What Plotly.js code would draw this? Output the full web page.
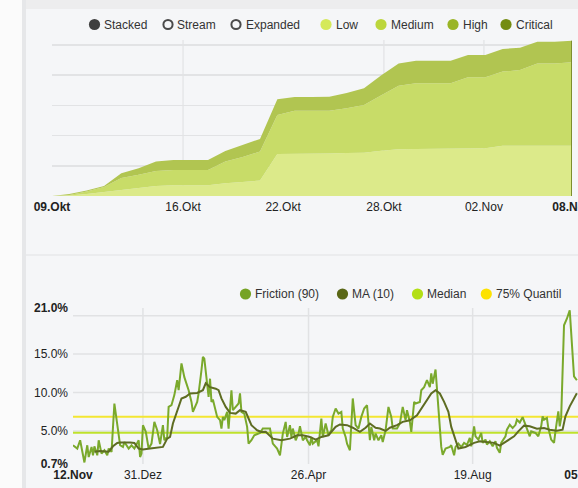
<!DOCTYPE html>
<html>
<head>
<meta charset="utf-8">
<script src="https://cdn.plot.ly/plotly-3.0.1.min.js"></script>
<style>
  html, body { margin: 0; padding: 0; overflow: hidden; background: #f5f6f8; }
  #chart { width: 610px; height: 488px; }
</style>
</head>
<body>
<div id="chart"></div>
<script>
// ---------- Top chart data (stacked risk levels, one point per observation) ----------
const topTickLabels = ['<b>09.Okt</b>', '16.Okt', '22.Okt', '28.Okt', '02.Nov', '<b>08.Nov</b>'];
const topTickPos = [0, 7.56, 13.33, 19.15, 24.92, 30];
const topGridPos = [7.56, 19.15, 24.92];
const lowVals = [0, 0.02, 0.07, 0.14, 0.2, 0.26, 0.33, 0.36, 0.36, 0.36, 0.42, 0.46, 0.51, 1.39, 1.39, 1.41, 1.41, 1.42, 1.43, 1.5, 1.55, 1.56, 1.56, 1.57, 1.58, 1.58, 1.66, 1.66, 1.66, 1.66, 1.66];
const mediumVals = [0, 0.01, 0.08, 0.16, 0.4, 0.44, 0.5, 0.5, 0.5, 0.5, 0.72, 0.83, 0.96, 1.29, 1.43, 1.41, 1.41, 1.49, 1.58, 1.84, 2.1, 2.17, 2.17, 2.16, 2.35, 2.35, 2.46, 2.51, 2.73, 2.73, 2.77];
const highVals = [0, 0.04, 0.03, 0.03, 0.15, 0.22, 0.31, 0.33, 0.33, 0.33, 0.35, 0.4, 0.42, 0.52, 0.46, 0.46, 0.47, 0.5, 0.56, 0.66, 0.74, 0.75, 0.75, 0.75, 0.74, 0.74, 0.75, 0.74, 0.72, 0.72, 0.71];
const criticalVals = [0, 0, 0, 0, 0, 0, 0, 0, 0, 0, 0, 0, 0, 0, 0, 0, 0, 0, 0, 0, 0, 0, 0, 0, 0, 0, 0, 0, 0, 0, 0];
const topIndex = lowVals.map((_, i) => i);

// ---------- Bottom chart data (days since 12.Nov) ----------
const bottomTickLabels = ['<b>12.Nov</b>', '31.Dez', '26.Apr', '19.Aug', '<b>05.Nov</b>'];
const bottomTickDays = [0, 49, 165, 280, 358];
const bottomGridDays = [49, 165, 280];
const yTickVals = [0.7, 5, 10, 15, 21];
const yTickText = ['<b>0.7%</b>', '5.0%', '10.0%', '15.0%', '<b>21.0%</b>'];
const yGridVals = [5, 10, 15, 20];

const frictionDays = [0,3,5,8,10,11,13,14,15,17,18,20,22,24,25,27,29,31,33,35,36,39,41,43,46,47,48,49,51,53,55,57,59,61,63,64,66,67,69,71,73,74,76,78,81,83,84,87,88,90,91,92,94,95,96,97,98,100,101,103,104,105,106,108,109,111,112,114,116,117,118,120,122,123,125,127,131,133,138,140,143,145,147,149,150,152,153,154,156,158,159,161,163,164,166,167,168,171,172,174,175,177,179,181,182,184,186,188,189,191,192,194,195,196,198,200,202,204,206,208,209,211,212,214,216,217,219,221,223,224,227,229,231,233,234,236,237,239,240,243,244,246,248,250,251,252,254,255,257,258,259,261,264,265,267,268,270,272,274,276,278,279,281,282,284,286,287,289,290,292,294,296,297,299,300,303,304,306,308,310,311,313,315,317,318,320,321,324,326,328,329,330,332,333,335,337,338,340,341,342,344,346,348,351,353];
const frictionVals = [3.14,2.71,3.79,0.9,3.14,1.61,2.92,1.83,3.0,1.83,3.79,2.05,2.49,1.83,2.71,2.27,8.57,5.97,3.14,2.92,3.57,2.71,3.14,2.71,3.79,1.61,2.05,5.75,4.88,2.71,3.36,6.18,5.1,3.3,5.75,3.79,4.22,8.13,8.35,9.66,11.6,10.3,13.8,12.0,10.3,8.78,7.48,8.78,9.88,12.9,14.65,14.4,10.7,9.44,11.8,8.78,9.1,7.7,6.83,6.4,5.31,6.83,6.4,7.48,5.31,10.3,7.7,8.13,8.57,9.88,7.48,7.26,5.53,3.35,3.79,4.44,4.74,5.31,5.31,3.35,2.71,1.83,4.66,6.18,4.22,5.75,4.22,5.31,3.79,4.66,5.62,3.79,4.22,3.79,3.14,4.22,3.35,3.79,3.0,6.62,4.22,5.97,4.44,5.09,6.83,7.92,7.26,7.48,5.31,4.22,3.35,2.49,5.97,9.23,5.75,5.31,6.83,7.92,8.35,3.79,5.53,3.79,4.66,3.79,4.44,3.57,5.09,8.13,6.83,5.31,5.31,5.97,8.13,6.4,7.7,6.18,4.88,8.78,8.57,8.78,10.3,10.7,11.6,10.7,12.5,11.15,13.0,10.3,5.97,2.92,1.9,2.71,2.92,3.14,1.83,2.92,3.35,2.9,3.45,3.2,4.09,3.0,5.6,4.3,3.87,4.74,3.45,3.87,3.23,3.65,3.0,3.65,2.8,2.15,3.45,4.3,5.17,5.8,5.38,5.8,6.46,6.1,6.8,5.8,5.17,4.3,4.95,4.74,4.3,5.6,6.9,6.46,6.7,5.38,3.87,3.45,4.95,7.54,5.6,6.7,18.75,19.6,20.7,12.1,11.6];

const maDays = [15,19,25,28,31,33,40,43,46,49,54,60,63,66,68,70,74,76,79,82,87,89,91,93,96,100,102,104,107,110,114,117,121,123,125,129,132,135,140,146,152,157,161,166,170,174,179,184,187,192,196,201,205,208,212,215,219,222,227,231,236,241,244,248,251,254,257,260,263,265,268,270,275,281,285,290,295,299,304,309,312,316,320,325,330,334,339,343,345,348,353];
const maVals = [2.3,2.4,2.3,3.0,3.44,3.5,3.5,3.44,2.71,2.6,2.71,2.8,2.92,4.0,4.22,5.97,8.13,9.23,9.45,9.88,9.95,10.1,10.3,11.2,10.7,10.5,10.3,9.23,8.13,7.35,7.26,7.7,7.48,6.62,5.75,5.09,4.88,4.9,4.0,3.79,4.0,4.44,4.44,4.22,3.88,4.22,4.44,5.53,5.84,5.75,5.42,4.88,5.42,5.97,5.42,5.31,5.0,5.42,5.75,6.18,6.4,7.05,7.92,9.0,9.88,10.3,9.88,8.78,7.48,5.53,3.79,2.71,2.92,3.45,3.65,3.55,3.45,3.1,3.65,4.3,4.95,5.69,5.6,5.3,5.38,5.17,5.04,5.17,6.9,8.2,9.9];

const statDays = [0, 358];
const medianLine = [4.77, 4.77];
const quantil75Line = [6.85, 6.85];

// ---------- layout helpers (pixel -> paper) ----------
const W = 610, H = 488;
const px = x => x / W;
const py = y => 1 - y / H;
const FONT = 'Liberation Sans, Arial, sans-serif';

const traces = [
  {x: topIndex, y: lowVals, type: 'scatter', mode: 'lines', stackgroup: 'risk', name: 'Low',
   line: {width: 0}, fillcolor: '#dcea8a', xaxis: 'x', yaxis: 'y', hoverinfo: 'skip'},
  {x: topIndex, y: mediumVals, type: 'scatter', mode: 'lines', stackgroup: 'risk', name: 'Medium',
   line: {width: 0}, fillcolor: '#c8dc68', xaxis: 'x', yaxis: 'y', hoverinfo: 'skip'},
  {x: topIndex, y: highVals, type: 'scatter', mode: 'lines', stackgroup: 'risk', name: 'High',
   line: {width: 0}, fillcolor: '#b1c551', xaxis: 'x', yaxis: 'y', hoverinfo: 'skip'},
  {x: topIndex, y: criticalVals, type: 'scatter', mode: 'lines', stackgroup: 'risk', name: 'Critical',
   line: {width: 0}, fillcolor: '#8fa52c', xaxis: 'x', yaxis: 'y', hoverinfo: 'skip'},
  {x: statDays, y: medianLine, type: 'scatter', mode: 'lines', name: 'Median',
   line: {color: '#bfe22c', width: 2}, xaxis: 'x2', yaxis: 'y2', hoverinfo: 'skip'},
  {x: statDays, y: quantil75Line, type: 'scatter', mode: 'lines', name: '75% Quantil',
   line: {color: '#f3e632', width: 2}, xaxis: 'x2', yaxis: 'y2', hoverinfo: 'skip'},
  {x: frictionDays, y: frictionVals, type: 'scatter', mode: 'lines', name: 'Friction (90)',
   line: {color: '#7aa92c', width: 2}, xaxis: 'x2', yaxis: 'y2', hoverinfo: 'skip'},
  {x: maDays, y: maVals, type: 'scatter', mode: 'lines', name: 'MA (10)',
   line: {color: '#5e6c22', width: 2}, xaxis: 'x2', yaxis: 'y2', hoverinfo: 'skip'}
];

const shapes = [
  // page decoration
  {type: 'rect', xref: 'paper', yref: 'paper', x0: 0, x1: px(22), y0: 0, y1: 1, fillcolor: '#fbfbfb', line: {width: 0}, layer: 'below'},
  {type: 'rect', xref: 'paper', yref: 'paper', x0: px(22), x1: px(26), y0: 0, y1: 1, fillcolor: '#e6e7e9', line: {width: 0}, layer: 'below'},
  {type: 'rect', xref: 'paper', yref: 'paper', x0: px(26), x1: 1, y0: py(9), y1: 1, fillcolor: '#ededee', line: {width: 0}, layer: 'below'},
  {type: 'line', xref: 'paper', yref: 'paper', x0: px(26), x1: 1, y0: py(255), y1: py(255), line: {color: '#ebecee', width: 2}, layer: 'below'}
];
topGridPos.forEach(v => shapes.push({type: 'line', xref: 'x', yref: 'y domain', x0: v, x1: v, y0: 0, y1: 1,
  line: {color: '#dedfe1', width: 1}, layer: 'below'}));
bottomGridDays.forEach(v => shapes.push({type: 'line', xref: 'x2', yref: 'y2 domain', x0: v, x1: v, y0: 0, y1: 1,
  line: {color: '#e1e2e4', width: 1.5}, layer: 'below'}));
yGridVals.forEach(v => shapes.push({type: 'line', xref: 'x2 domain', yref: 'y2', x0: 0, x1: 1, y0: v, y1: v,
  line: {color: '#e1e2e4', width: 1.5}, layer: 'below'}));
// right edge of the stacked area
const lastI = topIndex.length - 1;
shapes.push({type: 'line', xref: 'x', yref: 'y', x0: topIndex[lastI], x1: topIndex[lastI], y0: 0,
  y1: lowVals[lastI] + mediumVals[lastI] + highVals[lastI] + criticalVals[lastI],
  line: {color: '#7d8f2e', width: 2}, layer: 'above'});

// legends (markers as shapes, labels as annotations)
const topLegend = [
  {label: 'Stacked', cx: 94.5, color: '#3f3f3f', hollow: false},
  {label: 'Stream', cx: 168, color: '#4a4a4a', hollow: true},
  {label: 'Expanded', cx: 236, color: '#4a4a4a', hollow: true},
  {label: 'Low', cx: 326, color: '#d5e95a', hollow: false},
  {label: 'Medium', cx: 381, color: '#bcd63c', hollow: false},
  {label: 'High', cx: 453, color: '#9ab526', hollow: false},
  {label: 'Critical', cx: 506, color: '#748c10', hollow: false}
];
const bottomLegend = [
  {label: 'Friction (90)', cx: 245.5, color: '#76a324', hollow: false},
  {label: 'MA (10)', cx: 342.5, color: '#5a6716', hollow: false},
  {label: 'Median', cx: 417.5, color: '#b3df14', hollow: false},
  {label: '75% Quantil', cx: 486.3, color: '#fde200', hollow: false}
];
const annotations = [];
function addLegend(items, cy) {
  items.forEach(it => {
    const r = it.hollow ? 4.6 : 5.6;
    shapes.push({type: 'circle', xref: 'paper', yref: 'paper',
      x0: px(it.cx - r), x1: px(it.cx + r), y0: py(cy + r), y1: py(cy - r),
      fillcolor: it.hollow ? 'rgba(0,0,0,0)' : it.color,
      line: {color: it.color, width: it.hollow ? 2 : 0}, layer: 'above'});
    annotations.push({xref: 'paper', yref: 'paper', x: px(it.cx + 7.5), y: py(cy),
      xanchor: 'left', yanchor: 'middle', text: it.label, showarrow: false,
      font: {family: FONT, size: 12, color: '#333333'}});
  });
}
addLegend(topLegend, 24.5);
addLegend(bottomLegend, 294);

const layout = {
  width: W, height: H,
  margin: {l: 0, r: 0, t: 0, b: 0},
  paper_bgcolor: '#f5f6f8',
  plot_bgcolor: 'rgba(0,0,0,0)',
  showlegend: false,
  font: {family: FONT, size: 12, color: '#333333'},
  xaxis: {domain: [px(52), px(572)], range: [0, 30], anchor: 'y',
    tickmode: 'array', tickvals: topTickPos, ticktext: topTickLabels,
    showgrid: false, zeroline: false, showline: false, ticks: '', ticklabelstandoff: 2,
    tickfont: {family: FONT, size: 12, color: '#222222'}, fixedrange: true},
  yaxis: {domain: [py(196), py(40)], range: [0, 5.166], anchor: 'x',
    tickmode: 'linear', tick0: 0, dtick: 1, showticklabels: false,
    showgrid: true, gridcolor: '#e2e3e5', gridwidth: 1.5, zeroline: false, showline: false, fixedrange: true},
  xaxis2: {domain: [px(73), px(584)], range: [0, 358], anchor: 'y2',
    tickmode: 'array', tickvals: bottomTickDays, ticktext: bottomTickLabels,
    showgrid: false, zeroline: false, showline: false, ticks: '', ticklabelstandoff: 2,
    tickfont: {family: FONT, size: 12, color: '#222222'}, fixedrange: true},
  yaxis2: {domain: [py(464), py(308)], range: [0.7, 21], anchor: 'x2',
    tickmode: 'array', tickvals: yTickVals, ticktext: yTickText,
    showgrid: false, zeroline: false, showline: false, ticks: '', ticklabelstandoff: 4,
    tickfont: {family: FONT, size: 12, color: '#222222'}, fixedrange: true},
  shapes: shapes,
  annotations: annotations
};

Plotly.newPlot('chart', traces, layout, {displayModeBar: false, staticPlot: true});
</script>
</body>
</html>
